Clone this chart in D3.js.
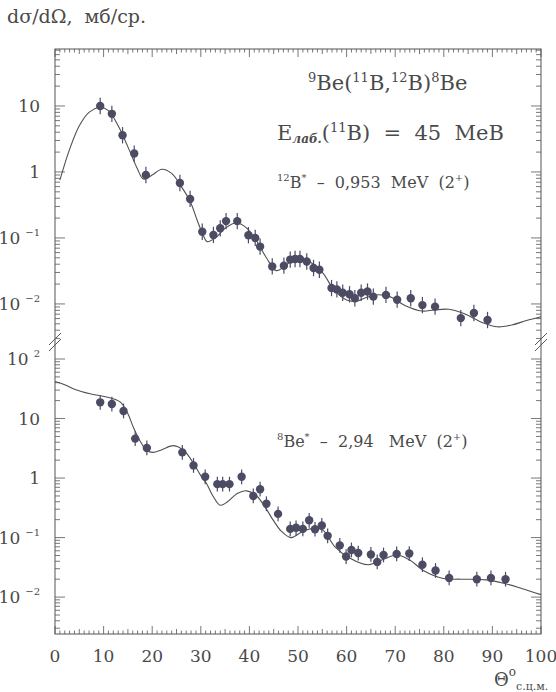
<!DOCTYPE html>
<html>
<head>
<meta charset="utf-8">
<script src="https://cdnjs.cloudflare.com/ajax/libs/d3/7.8.5/d3.min.js"></script>
<style>
  body { margin: 0; background: #fff; }
  svg text { font-family: "DejaVu Serif", serif; fill: #4a4a4a; white-space: pre; }
</style>
</head>
<body>
<svg width="556" height="692"></svg>
<script>
// angle axis
var thetaDomain = [0, 100];
var thetaTicks = [0, 10, 20, 30, 40, 50, 60, 70, 80, 90, 100];

// upper panel: 9Be(11B,12B)8Be, 12B* 0.953 MeV
var upperDomain = [0.00265, 73];
var upperTicks = [10, 1, 0.1, 0.01];
var upperExpTheta = [9.3, 11.7, 13.9, 16.3, 18.7, 25.7, 27.8, 30.3, 32.6, 34.0, 35.2, 37.5, 39.8, 41.2, 42.2,
                     44.7, 47.1, 48.4, 49.4, 50.4, 51.8, 53.2, 54.4, 56.9, 58.0, 59.2, 60.6, 61.7, 63.0, 64.3,
                     65.5, 68.1, 70.4, 73.2, 75.6, 78.2, 83.5, 86.2, 89.0];
var upperExpValue = [10, 7.6, 3.6, 1.9, 0.9, 0.68, 0.39, 0.124, 0.111, 0.14, 0.18, 0.18, 0.11, 0.10, 0.074,
                     0.037, 0.038, 0.047, 0.048, 0.048, 0.044, 0.035, 0.033, 0.0174, 0.0166, 0.0148, 0.014, 0.0122, 0.0148, 0.0154,
                     0.0129, 0.0137, 0.0116, 0.0122, 0.0096, 0.0091, 0.0061, 0.0073, 0.0057];
var upperCurveTheta = [1, 3, 5, 7, 9.3, 11, 13, 15, 17, 18.2, 20, 22, 24, 26, 27.8, 29.2, 30.5, 31.3, 33, 35,
                       37.4, 39.5, 41.5, 43.5, 45.5, 47, 49.5, 52, 55, 57.5, 60, 62, 64, 66.5, 69, 72, 75.5,
                       78, 81, 84, 88, 91, 94, 97, 100];
var upperCurveValue = [0.75, 2.2, 5, 8, 9.5, 8.5, 5, 2.4, 1.1, 0.78, 0.9, 1.1, 0.95, 0.6, 0.36, 0.19, 0.11, 0.088, 0.1, 0.14,
                       0.17, 0.14, 0.09, 0.05, 0.032, 0.036, 0.049, 0.045, 0.03, 0.016, 0.0115, 0.011, 0.0125, 0.0138, 0.0128, 0.0095, 0.0078,
                       0.0081, 0.0083, 0.0072, 0.0052, 0.0045, 0.0048, 0.0056, 0.0064];

// lower panel: 8Be* 2.94 MeV
var lowerDomain = [0.0024, 193];
var lowerTicks = [100, 10, 1, 0.1, 0.01];
var lowerExpTheta = [9.3, 11.7, 14.1, 16.5, 18.9, 26.2, 28.5, 30.9, 33.4, 34.5, 35.9, 38.4, 40.8, 42.2, 43.5,
                     45.9, 48.4, 49.6, 51.0, 52.3, 53.5, 54.9, 56.1, 58.6, 59.9, 61.0, 62.4, 65.0, 66.3, 67.6,
                     70.3, 72.9, 75.6, 78.3, 81.1, 86.8, 89.7, 92.7];
var lowerExpValue = [18.7, 17.5, 13.4, 4.6, 3.2, 2.7, 1.63, 1.05, 0.79, 0.79, 0.79, 1.05, 0.50, 0.65, 0.37,
                     0.25, 0.14, 0.146, 0.14, 0.195, 0.138, 0.16, 0.107, 0.074, 0.048, 0.062, 0.055, 0.052, 0.039, 0.051,
                     0.053, 0.054, 0.035, 0.028, 0.021, 0.020, 0.021, 0.020];
var lowerCurveTheta = [0, 2, 4, 7.2, 10.6, 13.4, 15, 16.1, 17.5, 18.9, 20.2, 22, 24.4, 26.5, 28.5, 30, 31.2, 32.5,
                       34, 35.5, 37.5, 39.4, 41.5, 43.5, 44.9, 46.5, 48.5, 50.5, 52.5, 55, 57.6, 60.7, 64.5, 67.5,
                       70.3, 73, 75.8, 79.9, 83.5, 88.8, 92.9, 96, 100];
var lowerCurveValue = [42, 37, 31, 26, 23, 19, 12, 7.2, 4.2, 2.9, 2.7, 3.0, 3.5, 2.9, 1.77, 1.1, 0.8, 0.5,
                       0.35, 0.4, 0.55, 0.61, 0.5, 0.3, 0.196, 0.13, 0.1, 0.12, 0.14, 0.135, 0.07, 0.045, 0.035, 0.043,
                       0.051, 0.042, 0.028, 0.0205, 0.020, 0.0195, 0.0166, 0.014, 0.011];

var svg = d3.select("svg");
var pl = 55, pr = 541, pt = 49, pb = 634, brk = 342;
var ink = "#555";
var dotColor = "#4b4c63";
var errFactor = 1.33;

var x = d3.scaleLinear().domain(thetaDomain).range([pl, pr]);
var yUp = d3.scaleLog().domain(upperDomain).range([brk, pt]);
var yLo = d3.scaleLog().domain(lowerDomain).range([pb, brk]);

// frame
svg.append("rect")
    .attr("x", pl).attr("y", pt)
    .attr("width", pr - pl).attr("height", pb - pt)
    .attr("fill", "none").attr("stroke", ink).attr("stroke-width", 1);

// x ticks, top and bottom, pointing inward
var xMinor = d3.range(0, 101, 1);
[[pt, 1], [pb, -1]].forEach(function (s) {
    svg.append("g").selectAll("line")
        .data(xMinor)
        .enter().append("line")
        .attr("x1", function (d) { return x(d); })
        .attr("x2", function (d) { return x(d); })
        .attr("y1", s[0])
        .attr("y2", function (d) {
            var len = d % 10 === 0 ? 8 : (d % 5 === 0 ? 5 : 3.5);
            return s[0] + s[1] * len;
        })
        .attr("stroke", ink).attr("stroke-width", 0.8);
});

svg.append("g").selectAll("text")
    .data(thetaTicks)
    .enter().append("text")
    .attr("x", function (d) { return x(d); })
    .attr("y", pb + 28)
    .attr("text-anchor", "middle")
    .style("font-size", "17px")
    .text(function (d) { return d; });

// log axis with minor ticks on both sides
function logTicks(scale, majors) {
    var dom = scale.domain();
    var lo = Math.floor(Math.log10(dom[0])), hi = Math.ceil(Math.log10(dom[1]));
    var ticks = [];
    for (var e = lo; e <= hi; e++) {
        for (var m = 1; m <= 9; m++) {
            var v = m * Math.pow(10, e);
            if (v >= dom[0] && v <= dom[1]) ticks.push({ v: v, major: m === 1 });
        }
    }
    [[pl, 1], [pr, -1]].forEach(function (s) {
        svg.append("g").selectAll("line")
            .data(ticks)
            .enter().append("line")
            .attr("x1", s[0])
            .attr("x2", function (d) { return s[0] + s[1] * (d.major ? 10 : 5); })
            .attr("y1", function (d) { return scale(d.v); })
            .attr("y2", function (d) { return scale(d.v); })
            .attr("stroke", ink).attr("stroke-width", 0.8);
    });

    var lab = svg.append("g").selectAll("text")
        .data(majors)
        .enter().append("text")
        .attr("x", 40)
        .attr("y", function (d) { return scale(d) + 6; })
        .attr("text-anchor", "end")
        .style("font-size", "17px");
    lab.each(function (d) {
        var e = Math.round(Math.log10(d));
        var t = d3.select(this);
        if (e === 0) t.text("1");
        else if (e === 1) t.text("10");
        else {
            t.append("tspan").text("10");
            t.append("tspan").attr("dx", 5).attr("dy", -8)
                .style("font-size", "10px")
                .text(e < 0 ? "\u2212" + (-e) : e);
        }
    });
}
logTicks(yUp, upperTicks);
logTicks(yLo, lowerTicks);

// axis break marks
[pl, pr].forEach(function (bx) {
    [-3, 3].forEach(function (off) {
        svg.append("line")
            .attr("x1", bx - 6).attr("y1", brk + off + 6)
            .attr("x2", bx + 6).attr("y2", brk + off - 6)
            .attr("stroke", ink).attr("stroke-width", 1);
    });
});

// curves
function drawCurve(scale, th, val) {
    var pts = th.map(function (t, i) { return [t, val[i]]; });
    var line = d3.line()
        .x(function (d) { return x(d[0]); })
        .y(function (d) { return scale(d[1]); })
        .curve(d3.curveCatmullRom.alpha(0.5));
    svg.append("path")
        .datum(pts)
        .attr("d", line)
        .attr("fill", "none")
        .attr("stroke", "#505050")
        .attr("stroke-width", 1.1);
}
drawCurve(yUp, upperCurveTheta, upperCurveValue);
drawCurve(yLo, lowerCurveTheta, lowerCurveValue);

// data points with short error bars
function drawPoints(scale, th, val) {
    var pts = th.map(function (t, i) { return [t, val[i]]; });
    var g = svg.append("g");
    g.selectAll("line")
        .data(pts)
        .enter().append("line")
        .attr("x1", function (d) { return x(d[0]); })
        .attr("x2", function (d) { return x(d[0]); })
        .attr("y1", function (d) { return scale(d[1] * errFactor); })
        .attr("y2", function (d) { return scale(d[1] / errFactor); })
        .attr("stroke", dotColor).attr("stroke-width", 1.2);
    g.selectAll("circle")
        .data(pts)
        .enter().append("circle")
        .attr("cx", function (d) { return x(d[0]); })
        .attr("cy", function (d) { return scale(d[1]); })
        .attr("r", 4.2)
        .attr("fill", dotColor);
}
drawPoints(yUp, upperExpTheta, upperExpValue);
drawPoints(yLo, lowerExpTheta, lowerExpValue);

// texts
svg.append("text").attr("x", 7).attr("y", 23)
    .style("font-size", "19px")
    .text("d\u03c3/d\u03a9,  \u043c\u0431/\u0441\u0440.");

var t1 = svg.append("text").attr("x", 308).attr("y", 90).style("font-size", "21px");
t1.append("tspan").attr("dy", -8).style("font-size", "13px").text("9");
t1.append("tspan").attr("dy", 8).text("Be(");
t1.append("tspan").attr("dy", -8).style("font-size", "13px").text("11");
t1.append("tspan").attr("dy", 8).text("B,");
t1.append("tspan").attr("dy", -8).style("font-size", "13px").text("12");
t1.append("tspan").attr("dy", 8).text("B)");
t1.append("tspan").attr("dy", -8).style("font-size", "13px").text("8");
t1.append("tspan").attr("dy", 8).text("Be");

var t2 = svg.append("text").attr("x", 277).attr("y", 140).style("font-size", "21px");
t2.append("tspan").text("E");
t2.append("tspan").attr("dy", 3).style("font-size", "12px").style("font-style", "italic").style("font-weight", "bold").text("\u043b\u0430\u0431.");
t2.append("tspan").attr("dy", -3).text("(");
t2.append("tspan").attr("dy", -8).style("font-size", "13px").text("11");
t2.append("tspan").attr("dy", 8).text("B)  =  45  MeB");

function levelLabel(y, nuc, el, rest) {
    var t = svg.append("text").attr("x", 277).attr("y", y).style("font-size", "16px");
    t.append("tspan").attr("dy", -7).style("font-size", "10px").text(nuc);
    t.append("tspan").attr("dy", 7).text(el);
    t.append("tspan").attr("dy", -7).style("font-size", "10px").text("*");
    t.append("tspan").attr("dy", 7).text(rest);
    t.append("tspan").attr("dy", -7).style("font-size", "10px").text("+");
    t.append("tspan").attr("dy", 7).text(")");
}
levelLabel(188, "12", "B", "  \u2013  0,953  MeV  (2");
levelLabel(447, "8", "Be", "  \u2013  2,94   MeV  (2");

// x title
var xt = svg.append("text").attr("x", 494).attr("y", 686).style("font-size", "18px");
xt.append("tspan").text("\u0398");
xt.append("tspan").attr("dy", -10).style("font-size", "12px").text("o");
xt.append("tspan").attr("dy", 14).style("font-size", "11px").text("\u0441.\u0446.\u043c.");
</script>
</body>
</html>
